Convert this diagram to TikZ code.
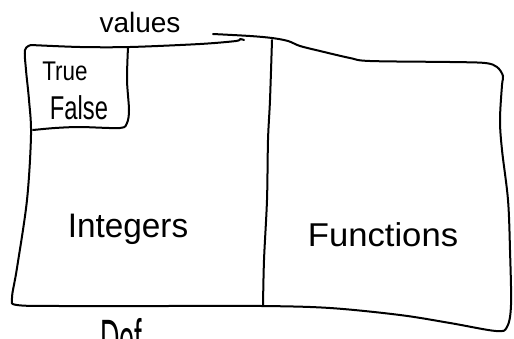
\documentclass[tikz,border=0pt]{standalone}
\usepackage{fontspec}
\usepackage{graphicx}
\setmainfont{Liberation Sans}
\begin{document}
\begin{tikzpicture}[x=1pt,y=-1pt,
  hand/.style={line width=2pt, line cap=round, line join=round},
  lbl/.style={inner sep=0pt, anchor=base}]
\useasboundingbox (0,0) rectangle (514,338);

% outer frame: left side, bottom, right side and the right part of the top
\draw[hand] plot[smooth, tension=0.55] coordinates {
  (31,45) (25,50) (26,70) (29,100) (31,135) (27,200) (17,268) (12,298)
  (17,305) (60,306) (160,306) (262,306) (330,308) (400,315) (450,323)
  (496,331) (507,327) (511,305) (510,250) (508,200) (502,150) (500,120)
  (502,85) (503,76) (497,67) (485,63) (450,62) (370,61) (350,58)
  (320,51) (300,46) (288,41) (272,38) (250,36) (213,34)};
% left part of the top
\draw[hand] plot[smooth, tension=0.5] coordinates {
  (31,45) (80,47) (130,47) (200,44) (236,41) (240,39) (244,40)};
% middle divider
\draw[hand] plot[smooth, tension=0.5] coordinates {
  (272,40) (270,100) (268,140) (267,200) (264,260) (263,306)};
% small box in the corner
\draw[hand] plot[smooth, tension=0.5] coordinates {
  (128,47) (127,80) (129,110) (127,123) (120,128) (80,127) (55,128) (33,130)};

% labels
\node[lbl] (values) at (140,32) {\fontsize{28}{30}\selectfont values};
\node[lbl] (truelbl) at (65,80) {\scalebox{0.83}[1]{\fontsize{27}{29}\selectfont True}};
\node[lbl] (falselbl) at (79,119) {\scalebox{0.72}[1]{\fontsize{33}{35}\selectfont False}};
\node[lbl] (integers) at (128,237) {\scalebox{0.98}[1]{\fontsize{34}{36}\selectfont Integers}};
\node[lbl] (functions) at (383,246) {\scalebox{1.05}[1]{\fontsize{33}{35}\selectfont Functions}};
% word running off the bottom edge
\node[inner sep=0pt, anchor=base west] (domlbl) at (100,357)
  {\scalebox{0.5}[1]{\fontsize{54}{56}\selectfont Def}};
\end{tikzpicture}
\end{document}
